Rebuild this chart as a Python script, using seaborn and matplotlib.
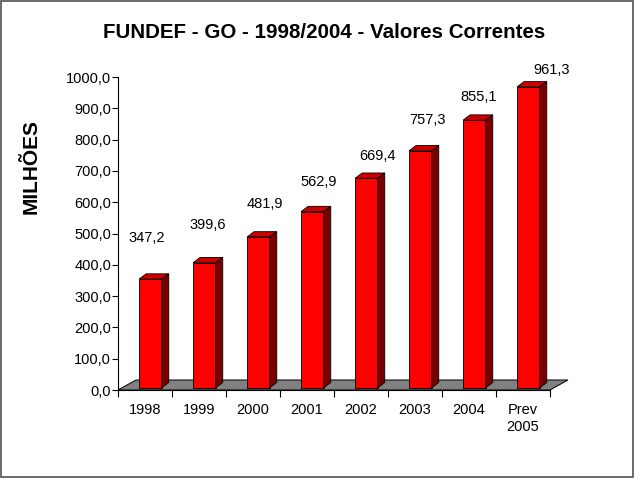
import matplotlib
matplotlib.use("Agg")
import matplotlib.pyplot as plt
from matplotlib.patches import Polygon, Rectangle
import pandas as pd
import seaborn as sns

# Dados (milhões de R$)
anos = ["1998", "1999", "2000", "2001", "2002", "2003", "2004", "Prev\n2005"]
valores = [347.2, 399.6, 481.9, 562.9, 669.4, 757.3, 855.1, 961.3]
titulo = "FUNDEF - GO - 1998/2004 - Valores Correntes"
rotulo_y = "MILHÕES"
ticks_y = [0, 100, 200, 300, 400, 500, 600, 700, 800, 900, 1000]

# Posição dos rótulos de dados (deslocamento em pixels a partir do topo da barra)
desloc_rotulos = [(2, 43), (9, 40), (12, 35), (12, 32), (16, 25), (12, 33), (10, 25), (29, 19)]

df = pd.DataFrame({"ano": anos, "valor": valores})

sns.set_theme(style="white")
plt.rcParams['font.family'] = ['Liberation Sans', 'DejaVu Sans']
plt.rcParams['text.color'] = 'black'
plt.rcParams['xtick.color'] = 'black'
plt.rcParams['ytick.color'] = 'black'
plt.rcParams['axes.labelcolor'] = 'black'

fig = plt.figure(figsize=(6.34, 4.78), dpi=100)
ax = fig.add_axes([118 / 634, 88 / 478, 459 / 634, 338 / 478])

# Piso cinza (efeito 3D)
prof_x, prof_y = 0.333, 32
piso = Polygon([(-0.5, 0), (7.5, 0), (7.5 + prof_x, prof_y), (-0.5 + prof_x, prof_y)],
               closed=True, facecolor="#808080", edgecolor="black", linewidth=0.7, zorder=1)
ax.add_patch(piso)

sns.barplot(data=df, x="ano", y="valor", ax=ax, color="#FF0000", saturation=1,
            width=0.42, edgecolor="black", linewidth=0.6, zorder=3)

# Faces superior e lateral das barras (barras apoiadas no meio do piso)
base = 7
ddx, ddy = 0.13, 17
for p in list(ax.patches):
    if not isinstance(p, Rectangle):
        continue
    p.set_x(p.get_x() + 0.1)
    p.set_y(base)
    x0 = p.get_x()
    x1 = x0 + p.get_width()
    h = base + p.get_height()
    topo = Polygon([(x0, h), (x1, h), (x1 + ddx, h + ddy), (x0 + ddx, h + ddy)], closed=True,
                   facecolor="#CC0000", edgecolor="black", linewidth=0.6, zorder=3)
    lado = Polygon([(x1, base), (x1, h), (x1 + ddx, h + ddy), (x1 + ddx, base + ddy)], closed=True,
                   facecolor="#7A0000", edgecolor="black", linewidth=0.6, zorder=3)
    ax.add_patch(topo)
    ax.add_patch(lado)

# Rótulos de dados
for i, v in enumerate(valores):
    dx, dy = desloc_rotulos[i]
    ax.annotate(f"{v:.1f}".replace(".", ","), xy=(i, v), xytext=(dx, dy),
                textcoords="offset pixels", ha="center", va="center",
                fontsize=10.5, color="black", annotation_clip=False)

ax.set_xlim(-0.5, 8.0)
ax.set_ylim(0, 1080)
ax.set_xlabel("")
ax.set_ylabel("")

for s in ["top", "right"]:
    ax.spines[s].set_visible(False)
ax.spines["left"].set_bounds(0, 1000)
ax.spines["bottom"].set_bounds(-0.5, 7.5)
for s in ["left", "bottom"]:
    ax.spines[s].set_color("black")
    ax.spines[s].set_linewidth(0.8)
    ax.spines[s].set_zorder(4)

ax.set_yticks(ticks_y)
ax.set_yticklabels([f"{t:.1f}".replace(".", ",") for t in ticks_y], fontsize=10.5)
ax.tick_params(axis="y", direction="out", length=4, width=0.8, pad=1, left=True)

ax.set_xticks([i - 0.5 for i in range(len(anos) + 1)])
ax.set_xticklabels([])
ax.set_xticks(range(len(anos)), minor=True)
ax.set_xticklabels(anos, minor=True, fontsize=10.5, linespacing=1.35, va="top")
ax.tick_params(axis="x", which="major", direction="out", length=5, width=0.8, bottom=True)
ax.tick_params(axis="x", which="minor", length=0, pad=9)

fig.text(324 / 634, 1 - 33 / 478, titulo, ha="center", va="center",
         fontsize=14.8, fontweight="bold")
fig.text(31 / 634, 1 - 167 / 478, rotulo_y, ha="center", va="center", rotation=90,
         fontsize=15, fontweight="bold")

fig.patches.append(Rectangle((0.002, 0.003), 0.996, 0.994, transform=fig.transFigure,
                             fill=False, edgecolor="#505050", linewidth=1.2))

fig.savefig("out.png", dpi=100)
